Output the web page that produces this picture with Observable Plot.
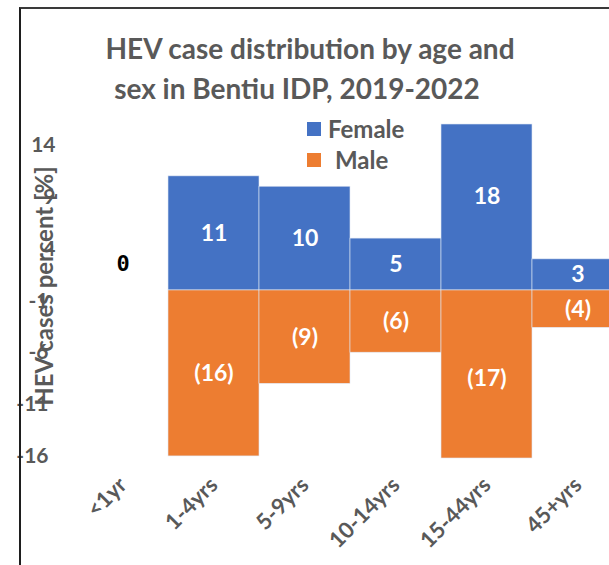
<!DOCTYPE html>
<html>
<head>
<meta charset="utf-8">
<script src="https://cdn.jsdelivr.net/npm/d3@7"></script>
<script src="https://cdn.jsdelivr.net/npm/@observablehq/plot@0.6"></script>
<style>
  html, body { margin: 0; padding: 0; background: #fff; overflow: hidden; }
  #wrap { position: relative; width: 609px; height: 565px; overflow: hidden; font-family: Lato, "Open Sans", sans-serif; }
  #frame { position: absolute; left: 19px; top: 7px; right: -5px; bottom: -5px; border-left: 2px solid #1e1e1e; border-top: 2px solid #3a3a3a; }
  .t { position: absolute; color: #595959; font-weight: bold; white-space: nowrap; }
  .title { font-size: 28px; transform: translateX(-50%); line-height: 1; }
  .leg { font-size: 24px; line-height: 1; }
  .sw { position: absolute; width: 14px; height: 14px; }
  #chart { position: absolute; left: 0; top: 0; }
</style>
</head>
<body>
<div id="wrap">
  <div id="chart"></div>
  <div id="frame"></div>
  <div class="t title" id="t1" style="left:310px; top:34px;"></div>
  <div class="t title" id="t2" style="left:297px; top:74px;"></div>
  <div id="legend"></div>
  <div class="t" id="ylab" style="left:43px; top:286px; font-size:24px; transform: translate(-50%,-50%) rotate(-90deg);"></div>
</div>
<script>
// ---- data ----
const ageGroups = ["<1yr", "1-4yrs", "5-9yrs", "10-14yrs", "15-44yrs", "45+yrs"];
const femalePct = [0, 11, 10, 5, 18, 3];
const malePct = [0, -16, -9, -6, -17, -3.6];
const seriesNames = ["Female", "Male"];
const seriesColors = ["#4472c4", "#ed7d31"];
const yTicks = [-16, -11, -6, -1, 4, 9, 14];
const titleLines = ["HEV case distribution by age and", "sex in Bentiu IDP, 2019-2022"];
const yLabel = "HEV cases percent [%]";

// ---- table ----
const rows = [];
ageGroups.forEach((a, i) => {
  rows.push({age: a, sex: seriesNames[0], value: femalePct[i]});
  rows.push({age: a, sex: seriesNames[1], value: malePct[i]});
});
const femaleRows = rows.filter(d => d.sex === seriesNames[0]);
const maleRows = rows.filter(d => d.sex === seriesNames[1]);

const labelFont = {fill: "white", fontSize: 23, fontWeight: "bold", fontFamily: "Lato, sans-serif"};

const chart = Plot.plot({
  width: 609,
  height: 565,
  marginTop: 124,
  marginBottom: 107,
  marginLeft: 77,
  marginRight: 0,
  style: {fontFamily: "Lato, sans-serif", fontSize: "22px", fontWeight: "bold", color: "#595959", background: "transparent"},
  x: {domain: ageGroups, range: [77, 623], padding: 0, tickSize: 0, tickPadding: 23, tickRotate: -45, label: null},
  y: {domain: [-16.2, 16], clamp: true, axis: null},
  color: {domain: seriesNames, range: seriesColors},
  marks: [
    Plot.barY(rows.filter(d => d.value !== 0), {x: "age", y1: 0, y2: "value", fill: "sex", inset: 0, stroke: "#dfe6f3", strokeWidth: 0.6}),
    Plot.ruleY([0], {x1: 78, stroke: "#d9d9d9", strokeWidth: 2}),
    Plot.text(femaleRows.filter(d => d.value !== 0), {x: "age", y: d => d.value / 2, text: d => String(d.value), ...labelFont}),
    Plot.text(maleRows.filter(d => d.value !== 0), {x: "age", y: d => d.value / 2, text: d => "(" + Math.round(Math.abs(d.value)) + ")", ...labelFont}),
    Plot.text(femaleRows.filter(d => d.value === 0), {x: "age", y: "value", dy: -27, text: d => String(d.value), fill: "black", fontSize: 22, fontWeight: "bold", fontFamily: "DejaVu Sans Mono, monospace"}),
    Plot.text(yTicks.filter(v => v >= 0), {y: d => d, frameAnchor: "left", dx: -22, textAnchor: "end", text: d => String(d), fill: "#595959", fontSize: 21}),
    Plot.text(yTicks.filter(v => v < 0), {y: d => d, frameAnchor: "left", dx: -29, textAnchor: "end", text: d => String(d), fill: "#595959", fontSize: 21})
  ]
});
document.getElementById("chart").appendChild(chart);

document.getElementById("t1").textContent = titleLines[0];
document.getElementById("t2").textContent = titleLines[1];
document.getElementById("ylab").textContent = yLabel;

const legend = document.getElementById("legend");
const legPos = [{sx: 307, sy: 122, tx: 328, ty: 117}, {sx: 307, sy: 153, tx: 335, ty: 148}];
seriesNames.forEach((name, i) => {
  const sw = document.createElement("div");
  sw.className = "sw";
  sw.style.left = legPos[i].sx + "px";
  sw.style.top = legPos[i].sy + "px";
  sw.style.background = seriesColors[i];
  legend.appendChild(sw);
  const t = document.createElement("div");
  t.className = "t leg";
  t.style.left = legPos[i].tx + "px";
  t.style.top = legPos[i].ty + "px";
  t.textContent = name;
  legend.appendChild(t);
});
</script>
</body>
</html>
